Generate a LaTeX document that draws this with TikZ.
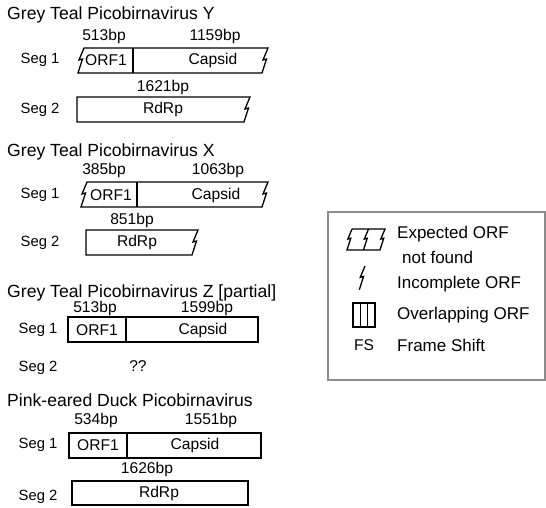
\documentclass[tikz,border=0pt]{standalone}
\usepackage{fontspec}
\setmainfont{Liberation Sans}
\usetikzlibrary{positioning}
\definecolor{frame}{HTML}{8C8C8C}
% broken edge of an incomplete ORF, top to bottom / bottom to top
\newcommand\zigdown[1]{-- ++({-5*#1},{12*#1}) -- ++({3.5*#1},{-1*#1}) -- ++({-4.5*#1},{14*#1})}
\newcommand\zigup[1]{-- ++({4.5*#1},{-14*#1}) -- ++({-3.5*#1},{1*#1}) -- ++({5*#1},{-12*#1})}

\begin{document}
\begin{tikzpicture}[x=1pt, y=-1pt,
        seg/.style={line width=1.3pt, line join=miter},
        virus/.style={anchor=west, inner sep=0pt, font=\fontsize{17.6}{20}\selectfont},
        seglabel/.style={inner sep=0pt, font=\fontsize{14.8}{17}\selectfont},
        gene/.style={inner sep=0pt, font=\fontsize{15.6}{18}\selectfont},
        key/.style={anchor=west, inner sep=0pt, font=\fontsize{17}{20}\selectfont},
      ]
      \useasboundingbox (0,0) rectangle (546,508);

      % Grey Teal Picobirnavirus Y
      \node[virus] (titleY) at (7,15) {Grey Teal Picobirnavirus Y};
      \node[seglabel] (yseg1) at (40,60) {Seg 1};
      \draw[seg] (84,48) -- (268,48) \zigdown{1} -- (78,73) \zigup{1} -- cycle;
      \draw[seg] (133,48) -- (133,73);
      \node[gene] (yorf) at (106,60) {ORF1};
      \node[gene] (ycap) at (213,60) {Capsid};
      \node[gene] (yorfbp) at (104,36) {513bp};
      \node[gene] (ycapbp) at (215,36) {1159bp};
      \node[seglabel] (yseg2) at (40,110) {Seg 2};
      \draw[seg] (77,97) -- (250,97) \zigdown{1} -- (77,122) -- cycle;
      \node[gene] (yrdrp) at (163,109) {RdRp};
      \node[gene] (yrdrpbp) at (163,87) {1621bp};

      % Grey Teal Picobirnavirus X
      \node[virus] (titleX) at (7,152) {Grey Teal Picobirnavirus X};
      \node[seglabel] (xseg1) at (40,195) {Seg 1};
      \draw[seg] (87,182) -- (268,182) \zigdown{1} -- (81,207) \zigup{1} -- cycle;
      \draw[seg] (137,182) -- (137,207);
      \node[gene] (xorf) at (111,195) {ORF1};
      \node[gene] (xcap) at (216,195) {Capsid};
      \node[gene] (xorfbp) at (104,170) {385bp};
      \node[gene] (xcapbp) at (218,170) {1063bp};
      \node[seglabel] (xseg2) at (40,243) {Seg 2};
      \draw[seg] (86,230) -- (198,230) \zigdown{1} -- (86,255) -- cycle;
      \node[gene] (xrdrp) at (137,242) {RdRp};
      \node[gene] (xrdrpbp) at (132,220) {851bp};

      % Grey Teal Picobirnavirus Z
      \node[virus] (titleZ) at (7,293) {Grey Teal Picobirnavirus Z [partial]};
      \node[seglabel] (zseg1) at (38,330) {Seg 1};
      \draw[seg] (68,317) rectangle (258,342);
      \draw[seg] (126,317) -- (126,342);
      \node[gene] (zorf) at (97,330) {ORF1};
      \node[gene] (zcap) at (203,330) {Capsid};
      \node[gene] (zorfbp) at (95,308) {513bp};
      \node[gene] (zcapbp) at (207,308) {1599bp};
      \node[seglabel] (zseg2) at (38,368) {Seg 2};
      \node[gene] (zunknown) at (138,366) {??};

      % Pink-eared Duck Picobirnavirus
      \node[virus] (titleD) at (7,400) {Pink-eared Duck Picobirnavirus};
      \node[seglabel] (dseg1) at (38,445) {Seg 1};
      \draw[seg] (69,433) rectangle (261,458);
      \draw[seg] (127,433) -- (127,458);
      \node[gene] (dorf) at (98,445) {ORF1};
      \node[gene] (dcap) at (195,445) {Capsid};
      \node[gene] (dorfbp) at (96,420) {534bp};
      \node[gene] (dcapbp) at (211,420) {1551bp};
      \node[seglabel] (dseg2) at (38,497) {Seg 2};
      \draw[seg] (72,481) rectangle (248,505);
      \node[gene] (drdrp) at (159,493) {RdRp};
      \node[gene] (drdrpbp) at (147,469) {1626bp};

      % legend
      \draw[frame, line width=2pt] (328,212) rectangle (545,380);
      \draw[seg] (352,229) -- (385,229) \zigdown{.84} -- (347,250) \zigup{.84} -- cycle;
      \draw[seg] (368.5,229) \zigdown{.84};
      \node[key] (kexp) at (397,234) {Expected ORF};
      \node[key] (knf) at (402,257) {not found};
      \draw[seg] (365,266) \zigdown{.95};
      \node[key] (kinc) at (397,284) {Incomplete ORF};
      \draw[seg] (353,303) rectangle (375,327);
      \draw[seg] (360.5,303) -- (360.5,327) (367.5,303) -- (367.5,327);
      \node[key] (kovl) at (397,315) {Overlapping ORF};
      \node[gene] (kfs) at (364,345) {FS};
      \node[key] (kfsh) at (397,345) {Frame Shift};
    \end{tikzpicture}
\end{document}
